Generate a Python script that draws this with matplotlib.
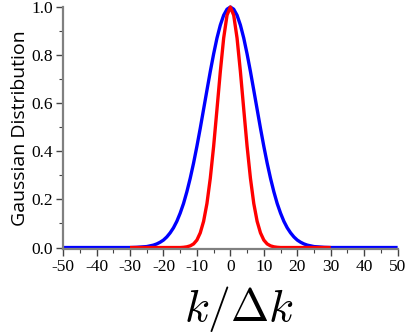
import matplotlib
matplotlib.use("Agg")
import matplotlib.pyplot as plt
from matplotlib.ticker import MultipleLocator

# values
blue_x = [-50, -30, -28, -26, -25, -24, -23, -22, -21, -20, -19, -18, -17, -16, -15,
          -14, -13, -12, -11, -10, -9, -8, -7, -6, -5, -4, -3, -2, -1, 0,
          1, 2, 3, 4, 5, 6, 7, 8, 9, 10, 11, 12, 13, 14, 15,
          16, 17, 18, 19, 20, 21, 22, 23, 24, 25, 26, 28, 30, 50]
blue_y = [0.000, 0.000, 0.001, 0.003, 0.004, 0.007, 0.010, 0.015, 0.022, 0.031, 0.044, 0.061, 0.082, 0.109, 0.143,
          0.183, 0.232, 0.288, 0.351, 0.421, 0.496, 0.575, 0.654, 0.732, 0.805, 0.871, 0.925, 0.966, 0.991, 1.000,
          0.991, 0.966, 0.925, 0.871, 0.805, 0.732, 0.654, 0.575, 0.496, 0.421, 0.351, 0.288, 0.232, 0.183, 0.143,
          0.109, 0.082, 0.061, 0.044, 0.031, 0.022, 0.015, 0.010, 0.007, 0.004, 0.003, 0.001, 0.000, 0.000]

red_x = [-30, -15, -14, -13, -12, -11, -10, -9, -8, -7, -6, -5, -4, -3, -2, -1, 0,
         1, 2, 3, 4, 5, 6, 7, 8, 9, 10, 11, 12, 13, 14, 15, 30]
red_y = [0.000, 0.000, 0.001, 0.003, 0.007, 0.015, 0.031, 0.061, 0.109, 0.183, 0.288, 0.421, 0.575, 0.732, 0.871, 0.966, 1.000,
         0.966, 0.871, 0.732, 0.575, 0.421, 0.288, 0.183, 0.109, 0.061, 0.031, 0.015, 0.007, 0.003, 0.001, 0.000, 0.000]

plt.rcParams['font.family'] = ['Liberation Serif', 'DejaVu Serif']
plt.rcParams['axes.unicode_minus'] = False
plt.rcParams['mathtext.fontset'] = 'cm'

fig = plt.figure(figsize=(4.07, 3.36), dpi=100)
ax = fig.add_axes([0.155, 0.259, 0.822, 0.72])

ax.plot(blue_x, blue_y, color='#0000ff', linewidth=2.4, clip_on=False, solid_capstyle='butt')
ax.plot(red_x, red_y, color='#ff0000', linewidth=2.4, clip_on=False, solid_capstyle='butt')

ax.set_xlim(-50, 50)
ax.set_ylim(-0.006, 1.0)

ax.xaxis.set_major_locator(MultipleLocator(10))
ax.xaxis.set_minor_locator(MultipleLocator(5))
ax.set_yticks([0.0, 0.2, 0.4, 0.6, 0.8, 1.0])
ax.set_yticklabels(['0.0', '0.2', '0.4', '0.6', '0.8', '1.0'])
ax.yaxis.set_minor_locator(MultipleLocator(0.1))

for side in ['top', 'right']:
    ax.spines[side].set_visible(False)
for side in ['left', 'bottom']:
    ax.spines[side].set_color('#808080')
    ax.spines[side].set_linewidth(1.6)

ax.tick_params(which='major', direction='out', length=5, width=1.0, color='#444444',
               labelsize=12.5, pad=2)
ax.tick_params(which='minor', direction='out', length=3, width=0.8, color='#444444')

ax.set_ylabel('Gaussian Distribution', fontfamily='Open Sans', fontsize=14, labelpad=2)
ax.set_xlabel(r'$k/\Delta k$', fontsize=33)
ax.xaxis.set_label_coords(0.525, -0.145, transform=ax.transAxes)
ax.xaxis.label.set_va('top')

fig.savefig('out.png', dpi=100)
